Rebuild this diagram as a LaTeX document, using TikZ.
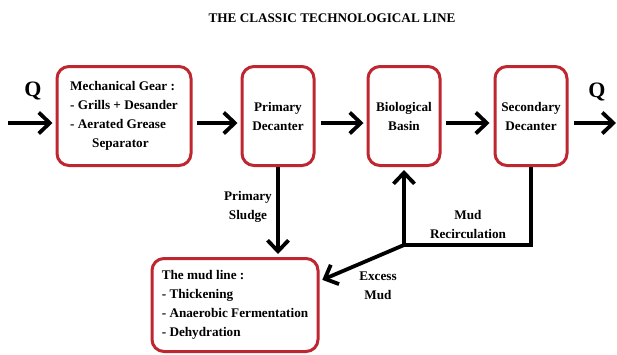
\documentclass[tikz,border=0pt]{standalone}
\usepackage{fontspec}
\setmainfont{Liberation Serif}
\usetikzlibrary{arrows.meta,calc}
\definecolor{boxred}{RGB}{190,38,48}

\begin{document}
\begin{tikzpicture}[x=1pt, y=-1pt,
        font=\bfseries\fontsize{13.2}{19}\selectfont,
        unit/.style={draw=boxred, line width=3pt, rounded corners=12pt, inner sep=0pt,
            minimum width=72pt, minimum height=99pt, align=center},
        flow/.style={line width=3.8pt, -{Straight Barb[length=11pt,width=21pt]}},
        pipe/.style={line width=3.8pt},
        bigq/.style={font=\bfseries\fontsize{22}{22}\selectfont}]
        \useasboundingbox (0,0) rectangle (617,354);

        % Title
        \node (title) at (332,18) {THE CLASSIC TECHNOLOGICAL LINE};

        % Treatment units
        \node[unit, minimum width=134pt, align=left] (gear) at (124,116)
            {Mechanical Gear :\\- Grills + Desander\\- Aerated Grease\\\hspace*{22pt}Separator};
        \node[unit] (prim) at (278,116) {Primary\\Decanter};
        \node[unit] (bio) at (404,116) {Biological\\Basin};
        \node[unit] (sec) at (531,116) {Secondary\\Decanter};
        \node[unit, minimum width=166pt, minimum height=93pt, align=left] (mud) at (235,305)
            {The mud line :\\- Thickening\\- Anaerobic Fermentation\\- Dehydration};

        % Inflow and outflow
        \node[bigq] (qin) at (33,91) {Q};
        \node[bigq] (qout) at (597,92) {Q};
        \coordinate (in) at (8,123);
        \coordinate (out) at (616,123);

        % Water line
        \draw[flow, shorten >=3pt] (in) -- ([yshift=-7pt]gear.west);
        \draw[flow, shorten <=4pt, shorten >=3pt] ([yshift=-7pt]gear.east) -- ([yshift=-7pt]prim.west);
        \draw[flow, shorten <=5pt, shorten >=3pt] ([yshift=-7pt]prim.east) -- ([yshift=-7pt]bio.west);
        \draw[flow, shorten <=4pt, shorten >=4pt] ([yshift=-7pt]bio.east) -- ([yshift=-7pt]sec.west);
        \draw[flow, shorten <=5pt] ([yshift=-7pt]sec.east) -- (out);

        % Sludge and recirculation
        \draw[flow, shorten >=3pt] (prim.south) -- (prim.south |- mud.north);
        \coordinate (split) at (bio.south |- 0,245);
        \draw[pipe] (sec.south) |- (split);
        \draw[flow, shorten >=3pt] (split) -- (bio.south);
        \draw[flow, shorten >=3pt] (split) -- ($(mud.north east)!0.25!(mud.south east)$);

        % Labels
        \node[align=center] (sludge) at (248,207) {Primary\\Sludge};
        \node[align=center] (recirc) at (468,224) {Mud\\Recirculation};
        \node[align=center] (excess) at (378,286) {Excess\\Mud};

    \end{tikzpicture}
\end{document}
